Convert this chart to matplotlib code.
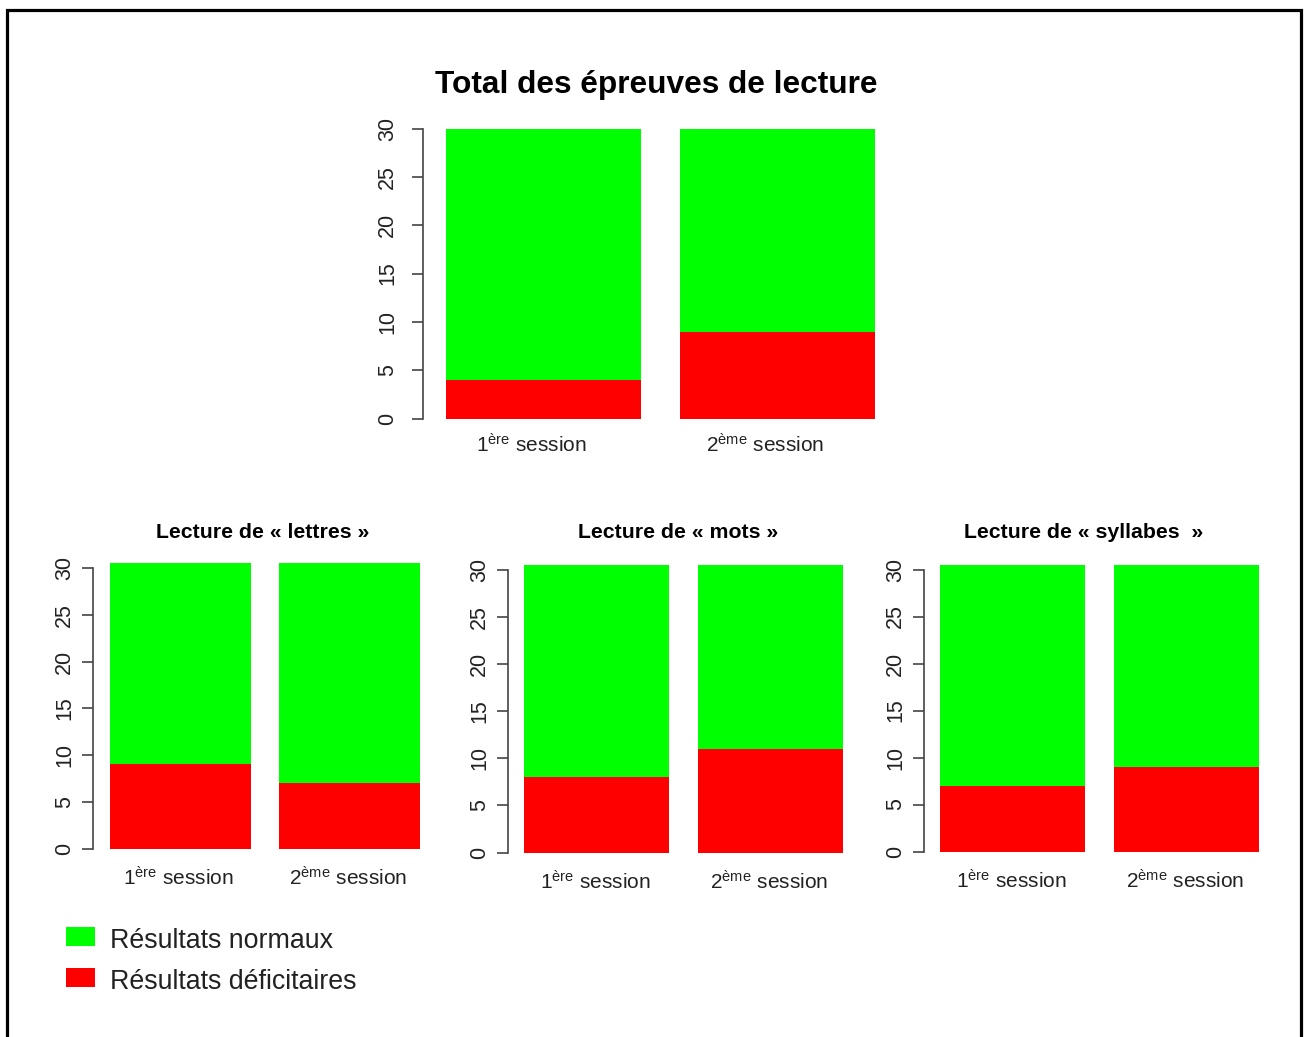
import matplotlib
matplotlib.use('Agg')
import matplotlib.pyplot as plt
import numpy as np
from matplotlib.transforms import ScaledTranslation
from matplotlib.patches import Rectangle
from matplotlib.lines import Line2D

W, H = 1306, 1037
plt.rcParams['font.family'] = ['Liberation Sans', 'DejaVu Sans']
plt.rcParams['mathtext.fontset'] = 'custom'
plt.rcParams['mathtext.rm'] = 'Liberation Sans'
plt.rcParams['mathtext.it'] = 'Liberation Sans'
plt.rcParams['mathtext.bf'] = 'Liberation Sans:bold'

# ---- data ----
sessions = ["1", "2"]
session_suffix = ["ère", "ème"]
series_names = ["Résultats normaux", "Résultats déficitaires"]
series_colors = ["#00FF00", "#FF0000"]
yticks = [0, 5, 10, 15, 20, 25, 30]

main_title = "Total des épreuves de lecture"
total_deficit = [4, 9]
total_normal = [26, 21]

sub_titles = ["Lecture de « lettres »", "Lecture de « mots »", "Lecture de « syllabes  »"]
lettres_deficit = [9, 7]
lettres_normal = [21.5, 23.5]
mots_deficit = [8, 11]
mots_normal = [22.5, 19.5]
syllabes_deficit = [7, 9]
syllabes_normal = [23.5, 21.5]

labels = [f"{s}$^{{\\mathrm{{{suf}}}}}$ session" for s, suf in zip(sessions, session_suffix)]

fig = plt.figure(figsize=(W / 100, H / 100), dpi=100)
fig.patch.set_facecolor('white')

AX_COL = '#444444'
TXT_COL = '#222222'


def make_axes(axis_px, bar_left_px, ppx, y0_px, y30_px):
    ppy = (y0_px - y30_px) / 30.0
    xa = 0.2 - (bar_left_px - axis_px) / ppx
    xb = 2.5
    ya, yb = -1.2, 31.6
    left = axis_px / W
    width = (xb - xa) * ppx / W
    bottom = 1 - (y0_px + (0 - ya) * ppy) / H
    height = (yb - ya) * ppy / H
    ax = fig.add_axes([left, bottom, width, height])
    ax.set_xlim(xa, xb)
    ax.set_ylim(ya, yb)
    return ax


def draw(ax, deficit, normal, ypad, xlab_shift, xpad):
    x = 0.7 + 1.2 * np.arange(len(deficit))
    ax.bar(x, deficit, width=1.0, color=series_colors[1], linewidth=0)
    ax.bar(x, normal, width=1.0, bottom=deficit, color=series_colors[0], linewidth=0)
    for s in ['top', 'right', 'bottom']:
        ax.spines[s].set_visible(False)
    ax.spines['left'].set_bounds(0, 30)
    ax.spines['left'].set_color(AX_COL)
    ax.spines['left'].set_linewidth(1.2)
    ax.set_yticks(yticks)
    ax.set_yticklabels([str(v) for v in yticks], rotation=90, va='center')
    ax.tick_params(axis='y', length=8, width=1.2, color=AX_COL, labelsize=15.5,
                   labelcolor=TXT_COL, pad=ypad)
    ax.set_xticks(x)
    ax.set_xticklabels(labels)
    ax.tick_params(axis='x', length=0, labelsize=15, labelcolor=TXT_COL, pad=xpad)
    if xlab_shift:
        for lbl in ax.get_xticklabels():
            lbl.set_transform(lbl.get_transform() +
                              ScaledTranslation(xlab_shift / 100.0, 0, fig.dpi_scale_trans))
    ax.set_facecolor('none')


# top chart
ax0 = make_axes(423, 446, 195, 418.5, 128.7)
draw(ax0, total_deficit, total_normal, ypad=10, xlab_shift=-12, xpad=2.5)
fig.text(656 / W, 1 - 85 / H, main_title, ha='center', va='center',
         fontsize=22.8, fontweight='bold', color='black')

# bottom charts
ax1 = make_axes(93, 110, 141, 848.5, 568)
draw(ax1, lettres_deficit, lettres_normal, ypad=5, xlab_shift=-2, xpad=4.5)
ax2 = make_axes(508, 524, 145, 852.5, 570)
draw(ax2, mots_deficit, mots_normal, ypad=5, xlab_shift=-1, xpad=4.5)
ax3 = make_axes(924, 940, 145, 851.5, 569.5)
draw(ax3, syllabes_deficit, syllabes_normal, ypad=5, xlab_shift=-1, xpad=4.5)

for cx, t in zip([263, 678, 1084], sub_titles):
    fig.text(cx / W, 1 - 533 / H, t, ha='center', va='center',
             fontsize=15.3, fontweight='bold', color='black')

# legend
for i, (name, col) in enumerate(zip(series_names, series_colors)):
    ytop = 927 + i * 41
    fig.add_artist(Rectangle((66 / W, 1 - (ytop + 19) / H), 29 / W, 19 / H,
                             transform=fig.transFigure, facecolor=col, edgecolor='none'))
    fig.text(110 / W, 1 - (ytop + 14) / H, name, ha='left', va='center',
             fontsize=19.3, color=TXT_COL)

# frame border
fig.add_artist(Line2D([7 / W, 7 / W, 1301 / W, 1301 / W],
                      [0, 1 - 9.5 / H, 1 - 9.5 / H, 0],
                      transform=fig.transFigure, color='black', linewidth=2.3,
                      solid_joinstyle='miter'))

fig.savefig('out.png', dpi=100, facecolor='white')
